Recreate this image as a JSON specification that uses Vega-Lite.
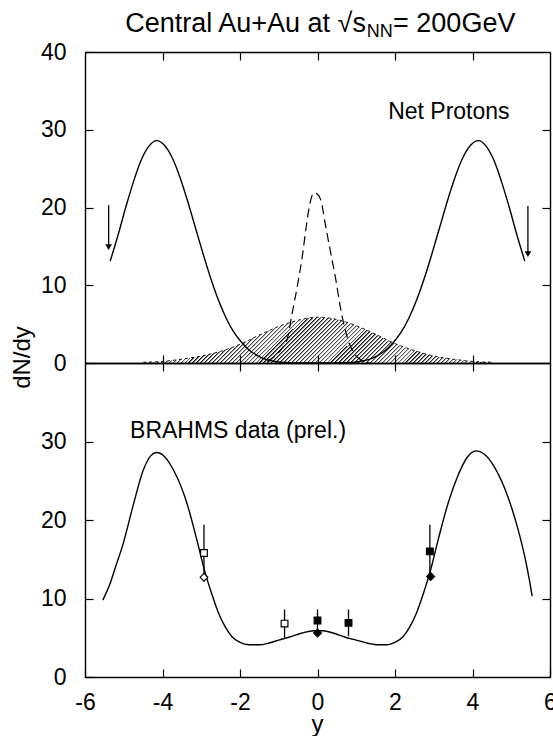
{
"$schema": "https://vega.github.io/schema/vega-lite/v6.json",
"background": "white",
"padding": {"left": 10, "top": 9, "right": 0, "bottom": 0},
"spacing": 0,
"bounds": "flush",
"config": {
  "view": {"stroke": null},
  "font": "Liberation Sans",
  "axis": {"domainColor": "black", "domainWidth": 1.4, "tickColor": "black", "tickWidth": 1.2, "tickSize": -8,
           "labelFont": "Liberation Sans", "labelFontSize": 23, "labelColor": "black", "grid": false,
           "titleFont": "Liberation Sans", "titleFontSize": 24, "titleFontWeight": "normal", "titleColor": "black",
           "labelFlush": false, "labelOverlap": false}
},
"datasets": {
  "hatch": [
    {"x": -4.5, "v": 0.1}, {"x": -4.0, "v": 0.2}, {"x": -3.5, "v": 0.5}, {"x": -3.0, "v": 0.9}, {"x": -2.5, "v": 1.5},
    {"x": -2.0, "v": 2.4}, {"x": -1.5, "v": 3.6}, {"x": -1.0, "v": 4.7}, {"x": -0.5, "v": 5.5}, {"x": 0.0, "v": 5.9},
    {"x": 0.5, "v": 5.6}, {"x": 1.0, "v": 4.8}, {"x": 1.5, "v": 3.7}, {"x": 2.0, "v": 2.5}, {"x": 2.5, "v": 1.6},
    {"x": 3.0, "v": 0.9}, {"x": 3.5, "v": 0.5}, {"x": 4.0, "v": 0.2}, {"x": 4.5, "v": 0.1}
  ],
  "topSolid": [
    {"x": -5.35, "v": 13.1}, {"x": -5.15, "v": 16.4}, {"x": -4.95, "v": 20.0}, {"x": -4.75, "v": 23.3}, {"x": -4.55, "v": 26.1},
    {"x": -4.35, "v": 27.9}, {"x": -4.15, "v": 28.6}, {"x": -3.95, "v": 28.0}, {"x": -3.75, "v": 26.4}, {"x": -3.55, "v": 23.9},
    {"x": -3.35, "v": 20.8}, {"x": -3.15, "v": 17.4}, {"x": -2.95, "v": 14.0}, {"x": -2.75, "v": 10.8}, {"x": -2.55, "v": 8.0},
    {"x": -2.35, "v": 5.7}, {"x": -2.15, "v": 3.9}, {"x": -1.95, "v": 2.6}, {"x": -1.75, "v": 1.6}, {"x": -1.55, "v": 0.95},
    {"x": -1.35, "v": 0.5}, {"x": -1.15, "v": 0.25}, {"x": -0.95, "v": 0.1}, {"x": -0.5, "v": 0}, {"x": 0, "v": 0},
    {"x": 0.5, "v": 0}, {"x": 0.95, "v": 0.1}, {"x": 1.15, "v": 0.25}, {"x": 1.35, "v": 0.5}, {"x": 1.55, "v": 0.95},
    {"x": 1.75, "v": 1.6}, {"x": 1.95, "v": 2.6}, {"x": 2.15, "v": 3.9}, {"x": 2.35, "v": 5.7}, {"x": 2.55, "v": 8.0},
    {"x": 2.75, "v": 10.8}, {"x": 2.95, "v": 14.0}, {"x": 3.15, "v": 17.4}, {"x": 3.35, "v": 20.8}, {"x": 3.55, "v": 23.9},
    {"x": 3.75, "v": 26.4}, {"x": 3.95, "v": 28.0}, {"x": 4.15, "v": 28.6}, {"x": 4.35, "v": 27.9}, {"x": 4.55, "v": 26.1},
    {"x": 4.75, "v": 23.3}, {"x": 4.95, "v": 20.0}, {"x": 5.15, "v": 16.4}, {"x": 5.35, "v": 13.1}
  ],
  "topDashed": [
    {"x": -1.3, "v": 0.2}, {"x": -1.1, "v": 0.9}, {"x": -0.9, "v": 2.0}, {"x": -0.78, "v": 3.1}, {"x": -0.65, "v": 6.5},
    {"x": -0.52, "v": 9.9}, {"x": -0.39, "v": 13.8}, {"x": -0.3, "v": 17.2}, {"x": -0.2, "v": 20.4}, {"x": -0.09, "v": 21.9},
    {"x": 0.0, "v": 21.7}, {"x": 0.09, "v": 20.9}, {"x": 0.21, "v": 17.6}, {"x": 0.34, "v": 14.2}, {"x": 0.47, "v": 10.8},
    {"x": 0.6, "v": 6.9}, {"x": 0.78, "v": 3.1}, {"x": 0.95, "v": 1.2}, {"x": 1.15, "v": 0.3}, {"x": 1.35, "v": 0}
  ],
  "arrows": [
    {"x": -5.39, "from": 20.3, "to": 14.9},
    {"x": 5.43, "from": 20.2, "to": 14.0}
  ],
  "bottomSolid": [
    {"x": -5.54, "v": 9.8}, {"x": -5.36, "v": 11.8}, {"x": -5.2, "v": 14.2}, {"x": -5.02, "v": 16.9}, {"x": -4.76, "v": 21.8},
    {"x": -4.5, "v": 26.3}, {"x": -4.3, "v": 28.2}, {"x": -4.15, "v": 28.6}, {"x": -3.95, "v": 28.1}, {"x": -3.72, "v": 26.4},
    {"x": -3.38, "v": 22.3}, {"x": -3.12, "v": 17.6}, {"x": -2.9, "v": 13.3}, {"x": -2.73, "v": 10.6}, {"x": -2.55, "v": 8.1},
    {"x": -2.37, "v": 6.3}, {"x": -2.2, "v": 5.1}, {"x": -2.0, "v": 4.4}, {"x": -1.77, "v": 4.1}, {"x": -1.5, "v": 4.1},
    {"x": -1.27, "v": 4.3}, {"x": -1.0, "v": 4.7}, {"x": -0.72, "v": 5.1}, {"x": -0.4, "v": 5.6}, {"x": -0.1, "v": 5.9},
    {"x": 0.15, "v": 5.9}, {"x": 0.4, "v": 5.6}, {"x": 0.7, "v": 5.1}, {"x": 1.0, "v": 4.7}, {"x": 1.3, "v": 4.3},
    {"x": 1.55, "v": 4.1}, {"x": 1.8, "v": 4.1}, {"x": 2.0, "v": 4.4}, {"x": 2.2, "v": 5.1}, {"x": 2.37, "v": 6.3},
    {"x": 2.55, "v": 8.1}, {"x": 2.73, "v": 10.6}, {"x": 2.9, "v": 13.3}, {"x": 3.12, "v": 17.6}, {"x": 3.38, "v": 22.3},
    {"x": 3.62, "v": 25.6}, {"x": 3.85, "v": 27.9}, {"x": 4.09, "v": 28.8}, {"x": 4.3, "v": 28.4}, {"x": 4.57, "v": 26.7},
    {"x": 4.91, "v": 23.0}, {"x": 5.17, "v": 18.9}, {"x": 5.35, "v": 15.3}, {"x": 5.47, "v": 12.3}, {"x": 5.54, "v": 10.3}
  ],
  "brahms": [
    {"x": -2.93, "v": 15.8, "lo": 12.2, "hi": 19.4, "sym": "square", "kind": "open"},
    {"x": -0.85, "v": 6.8, "lo": 5.0, "hi": 8.6, "sym": "square", "kind": "open"},
    {"x": 0.0, "v": 7.2, "lo": 5.7, "hi": 8.6, "sym": "square", "kind": "filled"},
    {"x": 0.8, "v": 6.9, "lo": 5.2, "hi": 8.6, "sym": "square", "kind": "filled"},
    {"x": 2.9, "v": 16.0, "lo": 12.6, "hi": 19.4, "sym": "square", "kind": "filled"},
    {"x": -2.93, "v": 12.7, "sym": "diamond", "kind": "open"},
    {"x": 0.0, "v": 5.6, "sym": "diamond", "kind": "filled"},
    {"x": 2.92, "v": 12.8, "sym": "diamond", "kind": "filled"}
  ]
},
"vconcat": [
  {
    "width": 465, "height": 311,
    "layer": [
      {
        "data": {"name": "hatch"},
        "mark": {"type": "area", "interpolate": "monotone", "color": {"gradient": "linear", "x1": 0, "y1": 0, "x2": 1.112, "y2": 0.1464, "stops": [
{"offset":0,"color":"#000"},{"offset":0.006,"color":"rgba(0,0,0,0)"},{"offset":0.01,"color":"rgba(0,0,0,0)"},
{"offset":0.01,"color":"#000"},{"offset":0.016,"color":"rgba(0,0,0,0)"},{"offset":0.02,"color":"rgba(0,0,0,0)"},
{"offset":0.02,"color":"#000"},{"offset":0.026,"color":"rgba(0,0,0,0)"},{"offset":0.03,"color":"rgba(0,0,0,0)"},
{"offset":0.03,"color":"#000"},{"offset":0.036,"color":"rgba(0,0,0,0)"},{"offset":0.04,"color":"rgba(0,0,0,0)"},
{"offset":0.04,"color":"#000"},{"offset":0.046,"color":"rgba(0,0,0,0)"},{"offset":0.05,"color":"rgba(0,0,0,0)"},
{"offset":0.05,"color":"#000"},{"offset":0.056,"color":"rgba(0,0,0,0)"},{"offset":0.06,"color":"rgba(0,0,0,0)"},
{"offset":0.06,"color":"#000"},{"offset":0.066,"color":"rgba(0,0,0,0)"},{"offset":0.07,"color":"rgba(0,0,0,0)"},
{"offset":0.07,"color":"#000"},{"offset":0.076,"color":"rgba(0,0,0,0)"},{"offset":0.08,"color":"rgba(0,0,0,0)"},
{"offset":0.08,"color":"#000"},{"offset":0.086,"color":"rgba(0,0,0,0)"},{"offset":0.09,"color":"rgba(0,0,0,0)"},
{"offset":0.09,"color":"#000"},{"offset":0.096,"color":"rgba(0,0,0,0)"},{"offset":0.1,"color":"rgba(0,0,0,0)"},
{"offset":0.1,"color":"#000"},{"offset":0.106,"color":"rgba(0,0,0,0)"},{"offset":0.11,"color":"rgba(0,0,0,0)"},
{"offset":0.11,"color":"#000"},{"offset":0.116,"color":"rgba(0,0,0,0)"},{"offset":0.12,"color":"rgba(0,0,0,0)"},
{"offset":0.12,"color":"#000"},{"offset":0.126,"color":"rgba(0,0,0,0)"},{"offset":0.13,"color":"rgba(0,0,0,0)"},
{"offset":0.13,"color":"#000"},{"offset":0.136,"color":"rgba(0,0,0,0)"},{"offset":0.14,"color":"rgba(0,0,0,0)"},
{"offset":0.14,"color":"#000"},{"offset":0.146,"color":"rgba(0,0,0,0)"},{"offset":0.15,"color":"rgba(0,0,0,0)"},
{"offset":0.15,"color":"#000"},{"offset":0.156,"color":"rgba(0,0,0,0)"},{"offset":0.16,"color":"rgba(0,0,0,0)"},
{"offset":0.16,"color":"#000"},{"offset":0.166,"color":"rgba(0,0,0,0)"},{"offset":0.17,"color":"rgba(0,0,0,0)"},
{"offset":0.17,"color":"#000"},{"offset":0.176,"color":"rgba(0,0,0,0)"},{"offset":0.18,"color":"rgba(0,0,0,0)"},
{"offset":0.18,"color":"#000"},{"offset":0.186,"color":"rgba(0,0,0,0)"},{"offset":0.19,"color":"rgba(0,0,0,0)"},
{"offset":0.19,"color":"#000"},{"offset":0.196,"color":"rgba(0,0,0,0)"},{"offset":0.2,"color":"rgba(0,0,0,0)"},
{"offset":0.2,"color":"#000"},{"offset":0.206,"color":"rgba(0,0,0,0)"},{"offset":0.21,"color":"rgba(0,0,0,0)"},
{"offset":0.21,"color":"#000"},{"offset":0.216,"color":"rgba(0,0,0,0)"},{"offset":0.22,"color":"rgba(0,0,0,0)"},
{"offset":0.22,"color":"#000"},{"offset":0.226,"color":"rgba(0,0,0,0)"},{"offset":0.23,"color":"rgba(0,0,0,0)"},
{"offset":0.23,"color":"#000"},{"offset":0.236,"color":"rgba(0,0,0,0)"},{"offset":0.24,"color":"rgba(0,0,0,0)"},
{"offset":0.24,"color":"#000"},{"offset":0.246,"color":"rgba(0,0,0,0)"},{"offset":0.25,"color":"rgba(0,0,0,0)"},
{"offset":0.25,"color":"#000"},{"offset":0.256,"color":"rgba(0,0,0,0)"},{"offset":0.26,"color":"rgba(0,0,0,0)"},
{"offset":0.26,"color":"#000"},{"offset":0.266,"color":"rgba(0,0,0,0)"},{"offset":0.27,"color":"rgba(0,0,0,0)"},
{"offset":0.27,"color":"#000"},{"offset":0.276,"color":"rgba(0,0,0,0)"},{"offset":0.28,"color":"rgba(0,0,0,0)"},
{"offset":0.28,"color":"#000"},{"offset":0.286,"color":"rgba(0,0,0,0)"},{"offset":0.29,"color":"rgba(0,0,0,0)"},
{"offset":0.29,"color":"#000"},{"offset":0.296,"color":"rgba(0,0,0,0)"},{"offset":0.3,"color":"rgba(0,0,0,0)"},
{"offset":0.3,"color":"#000"},{"offset":0.306,"color":"rgba(0,0,0,0)"},{"offset":0.31,"color":"rgba(0,0,0,0)"},
{"offset":0.31,"color":"#000"},{"offset":0.316,"color":"rgba(0,0,0,0)"},{"offset":0.32,"color":"rgba(0,0,0,0)"},
{"offset":0.32,"color":"#000"},{"offset":0.326,"color":"rgba(0,0,0,0)"},{"offset":0.33,"color":"rgba(0,0,0,0)"},
{"offset":0.33,"color":"#000"},{"offset":0.336,"color":"rgba(0,0,0,0)"},{"offset":0.34,"color":"rgba(0,0,0,0)"},
{"offset":0.34,"color":"#000"},{"offset":0.346,"color":"rgba(0,0,0,0)"},{"offset":0.35,"color":"rgba(0,0,0,0)"},
{"offset":0.35,"color":"#000"},{"offset":0.356,"color":"rgba(0,0,0,0)"},{"offset":0.36,"color":"rgba(0,0,0,0)"},
{"offset":0.36,"color":"#000"},{"offset":0.366,"color":"rgba(0,0,0,0)"},{"offset":0.37,"color":"rgba(0,0,0,0)"},
{"offset":0.37,"color":"#000"},{"offset":0.376,"color":"rgba(0,0,0,0)"},{"offset":0.38,"color":"rgba(0,0,0,0)"},
{"offset":0.38,"color":"#000"},{"offset":0.386,"color":"rgba(0,0,0,0)"},{"offset":0.39,"color":"rgba(0,0,0,0)"},
{"offset":0.39,"color":"#000"},{"offset":0.396,"color":"rgba(0,0,0,0)"},{"offset":0.4,"color":"rgba(0,0,0,0)"},
{"offset":0.4,"color":"#000"},{"offset":0.406,"color":"rgba(0,0,0,0)"},{"offset":0.41,"color":"rgba(0,0,0,0)"},
{"offset":0.41,"color":"#000"},{"offset":0.416,"color":"rgba(0,0,0,0)"},{"offset":0.42,"color":"rgba(0,0,0,0)"},
{"offset":0.42,"color":"#000"},{"offset":0.426,"color":"rgba(0,0,0,0)"},{"offset":0.43,"color":"rgba(0,0,0,0)"},
{"offset":0.43,"color":"#000"},{"offset":0.436,"color":"rgba(0,0,0,0)"},{"offset":0.44,"color":"rgba(0,0,0,0)"},
{"offset":0.44,"color":"#000"},{"offset":0.446,"color":"rgba(0,0,0,0)"},{"offset":0.45,"color":"rgba(0,0,0,0)"},
{"offset":0.45,"color":"#000"},{"offset":0.456,"color":"rgba(0,0,0,0)"},{"offset":0.46,"color":"rgba(0,0,0,0)"},
{"offset":0.46,"color":"#000"},{"offset":0.466,"color":"rgba(0,0,0,0)"},{"offset":0.47,"color":"rgba(0,0,0,0)"},
{"offset":0.47,"color":"#000"},{"offset":0.476,"color":"rgba(0,0,0,0)"},{"offset":0.48,"color":"rgba(0,0,0,0)"},
{"offset":0.48,"color":"#000"},{"offset":0.486,"color":"rgba(0,0,0,0)"},{"offset":0.49,"color":"rgba(0,0,0,0)"},
{"offset":0.49,"color":"#000"},{"offset":0.496,"color":"rgba(0,0,0,0)"},{"offset":0.5,"color":"rgba(0,0,0,0)"},
{"offset":0.5,"color":"#000"},{"offset":0.506,"color":"rgba(0,0,0,0)"},{"offset":0.51,"color":"rgba(0,0,0,0)"},
{"offset":0.51,"color":"#000"},{"offset":0.516,"color":"rgba(0,0,0,0)"},{"offset":0.52,"color":"rgba(0,0,0,0)"},
{"offset":0.52,"color":"#000"},{"offset":0.526,"color":"rgba(0,0,0,0)"},{"offset":0.53,"color":"rgba(0,0,0,0)"},
{"offset":0.53,"color":"#000"},{"offset":0.536,"color":"rgba(0,0,0,0)"},{"offset":0.54,"color":"rgba(0,0,0,0)"},
{"offset":0.54,"color":"#000"},{"offset":0.546,"color":"rgba(0,0,0,0)"},{"offset":0.55,"color":"rgba(0,0,0,0)"},
{"offset":0.55,"color":"#000"},{"offset":0.556,"color":"rgba(0,0,0,0)"},{"offset":0.56,"color":"rgba(0,0,0,0)"},
{"offset":0.56,"color":"#000"},{"offset":0.566,"color":"rgba(0,0,0,0)"},{"offset":0.57,"color":"rgba(0,0,0,0)"},
{"offset":0.57,"color":"#000"},{"offset":0.576,"color":"rgba(0,0,0,0)"},{"offset":0.58,"color":"rgba(0,0,0,0)"},
{"offset":0.58,"color":"#000"},{"offset":0.586,"color":"rgba(0,0,0,0)"},{"offset":0.59,"color":"rgba(0,0,0,0)"},
{"offset":0.59,"color":"#000"},{"offset":0.596,"color":"rgba(0,0,0,0)"},{"offset":0.6,"color":"rgba(0,0,0,0)"},
{"offset":0.6,"color":"#000"},{"offset":0.606,"color":"rgba(0,0,0,0)"},{"offset":0.61,"color":"rgba(0,0,0,0)"},
{"offset":0.61,"color":"#000"},{"offset":0.616,"color":"rgba(0,0,0,0)"},{"offset":0.62,"color":"rgba(0,0,0,0)"},
{"offset":0.62,"color":"#000"},{"offset":0.626,"color":"rgba(0,0,0,0)"},{"offset":0.63,"color":"rgba(0,0,0,0)"},
{"offset":0.63,"color":"#000"},{"offset":0.636,"color":"rgba(0,0,0,0)"},{"offset":0.64,"color":"rgba(0,0,0,0)"},
{"offset":0.64,"color":"#000"},{"offset":0.646,"color":"rgba(0,0,0,0)"},{"offset":0.65,"color":"rgba(0,0,0,0)"},
{"offset":0.65,"color":"#000"},{"offset":0.656,"color":"rgba(0,0,0,0)"},{"offset":0.66,"color":"rgba(0,0,0,0)"},
{"offset":0.66,"color":"#000"},{"offset":0.666,"color":"rgba(0,0,0,0)"},{"offset":0.67,"color":"rgba(0,0,0,0)"},
{"offset":0.67,"color":"#000"},{"offset":0.676,"color":"rgba(0,0,0,0)"},{"offset":0.68,"color":"rgba(0,0,0,0)"},
{"offset":0.68,"color":"#000"},{"offset":0.686,"color":"rgba(0,0,0,0)"},{"offset":0.69,"color":"rgba(0,0,0,0)"},
{"offset":0.69,"color":"#000"},{"offset":0.696,"color":"rgba(0,0,0,0)"},{"offset":0.7,"color":"rgba(0,0,0,0)"},
{"offset":0.7,"color":"#000"},{"offset":0.706,"color":"rgba(0,0,0,0)"},{"offset":0.71,"color":"rgba(0,0,0,0)"},
{"offset":0.71,"color":"#000"},{"offset":0.716,"color":"rgba(0,0,0,0)"},{"offset":0.72,"color":"rgba(0,0,0,0)"},
{"offset":0.72,"color":"#000"},{"offset":0.726,"color":"rgba(0,0,0,0)"},{"offset":0.73,"color":"rgba(0,0,0,0)"},
{"offset":0.73,"color":"#000"},{"offset":0.736,"color":"rgba(0,0,0,0)"},{"offset":0.74,"color":"rgba(0,0,0,0)"},
{"offset":0.74,"color":"#000"},{"offset":0.746,"color":"rgba(0,0,0,0)"},{"offset":0.75,"color":"rgba(0,0,0,0)"},
{"offset":0.75,"color":"#000"},{"offset":0.756,"color":"rgba(0,0,0,0)"},{"offset":0.76,"color":"rgba(0,0,0,0)"},
{"offset":0.76,"color":"#000"},{"offset":0.766,"color":"rgba(0,0,0,0)"},{"offset":0.77,"color":"rgba(0,0,0,0)"},
{"offset":0.77,"color":"#000"},{"offset":0.776,"color":"rgba(0,0,0,0)"},{"offset":0.78,"color":"rgba(0,0,0,0)"},
{"offset":0.78,"color":"#000"},{"offset":0.786,"color":"rgba(0,0,0,0)"},{"offset":0.79,"color":"rgba(0,0,0,0)"},
{"offset":0.79,"color":"#000"},{"offset":0.796,"color":"rgba(0,0,0,0)"},{"offset":0.8,"color":"rgba(0,0,0,0)"},
{"offset":0.8,"color":"#000"},{"offset":0.806,"color":"rgba(0,0,0,0)"},{"offset":0.81,"color":"rgba(0,0,0,0)"},
{"offset":0.81,"color":"#000"},{"offset":0.816,"color":"rgba(0,0,0,0)"},{"offset":0.82,"color":"rgba(0,0,0,0)"},
{"offset":0.82,"color":"#000"},{"offset":0.826,"color":"rgba(0,0,0,0)"},{"offset":0.83,"color":"rgba(0,0,0,0)"},
{"offset":0.83,"color":"#000"},{"offset":0.836,"color":"rgba(0,0,0,0)"},{"offset":0.84,"color":"rgba(0,0,0,0)"},
{"offset":0.84,"color":"#000"},{"offset":0.846,"color":"rgba(0,0,0,0)"},{"offset":0.85,"color":"rgba(0,0,0,0)"},
{"offset":0.85,"color":"#000"},{"offset":0.856,"color":"rgba(0,0,0,0)"},{"offset":0.86,"color":"rgba(0,0,0,0)"},
{"offset":0.86,"color":"#000"},{"offset":0.866,"color":"rgba(0,0,0,0)"},{"offset":0.87,"color":"rgba(0,0,0,0)"},
{"offset":0.87,"color":"#000"},{"offset":0.876,"color":"rgba(0,0,0,0)"},{"offset":0.88,"color":"rgba(0,0,0,0)"},
{"offset":0.88,"color":"#000"},{"offset":0.886,"color":"rgba(0,0,0,0)"},{"offset":0.89,"color":"rgba(0,0,0,0)"},
{"offset":0.89,"color":"#000"},{"offset":0.896,"color":"rgba(0,0,0,0)"},{"offset":0.9,"color":"rgba(0,0,0,0)"},
{"offset":0.9,"color":"#000"},{"offset":0.906,"color":"rgba(0,0,0,0)"},{"offset":0.91,"color":"rgba(0,0,0,0)"},
{"offset":0.91,"color":"#000"},{"offset":0.916,"color":"rgba(0,0,0,0)"},{"offset":0.92,"color":"rgba(0,0,0,0)"},
{"offset":0.92,"color":"#000"},{"offset":0.926,"color":"rgba(0,0,0,0)"},{"offset":0.93,"color":"rgba(0,0,0,0)"},
{"offset":0.93,"color":"#000"},{"offset":0.936,"color":"rgba(0,0,0,0)"},{"offset":0.94,"color":"rgba(0,0,0,0)"},
{"offset":0.94,"color":"#000"},{"offset":0.946,"color":"rgba(0,0,0,0)"},{"offset":0.95,"color":"rgba(0,0,0,0)"},
{"offset":0.95,"color":"#000"},{"offset":0.956,"color":"rgba(0,0,0,0)"},{"offset":0.96,"color":"rgba(0,0,0,0)"},
{"offset":0.96,"color":"#000"},{"offset":0.966,"color":"rgba(0,0,0,0)"},{"offset":0.97,"color":"rgba(0,0,0,0)"},
{"offset":0.97,"color":"#000"},{"offset":0.976,"color":"rgba(0,0,0,0)"},{"offset":0.98,"color":"rgba(0,0,0,0)"},
{"offset":0.98,"color":"#000"},{"offset":0.986,"color":"rgba(0,0,0,0)"},{"offset":0.99,"color":"rgba(0,0,0,0)"},
{"offset":0.99,"color":"#000"},{"offset":0.996,"color":"rgba(0,0,0,0)"},{"offset":1,"color":"rgba(0,0,0,0)"}
        ]}},
        "encoding": {
          "x": {"field": "x", "type": "quantitative", "scale": {"domain": [-6, 6], "nice": false, "zero": false},
                "axis": {"orient": "bottom", "values": [-4, -2, 0, 2, 4], "labels": false, "title": null}},
          "y": {"field": "v", "type": "quantitative", "scale": {"domain": [0, 40], "nice": false},
                "axis": {"orient": "left", "values": [0, 10, 20, 30, 40], "labelPadding": 27, "title": "dN/dy",
                         "titleAngle": -90, "titleX": -63, "titleY": 305, "titleAlign": "center", "titleBaseline": "middle"}}
        }
      },
      {
        "data": {"name": "hatch"},
        "mark": {"type": "line", "interpolate": "monotone", "color": "black", "strokeWidth": 0.9, "strokeDash": [3, 3]},
        "encoding": {
          "x": {"field": "x", "type": "quantitative", "axis": {"orient": "top", "values": [-4, -2, 0, 2, 4], "labels": false, "title": null}},
          "y": {"field": "v", "type": "quantitative", "axis": {"orient": "right", "values": [10, 20, 30], "labels": false, "title": null}}
        }
      },
      {
        "data": {"name": "topSolid"},
        "mark": {"type": "line", "interpolate": "monotone", "color": "black", "strokeWidth": 1.4},
        "encoding": {
          "x": {"field": "x", "type": "quantitative", "axis": null},
          "y": {"field": "v", "type": "quantitative", "axis": null}
        }
      },
      {
        "data": {"name": "topDashed"},
        "mark": {"type": "line", "interpolate": "monotone", "color": "black", "strokeWidth": 1.2, "strokeDash": [9, 5]},
        "encoding": {
          "x": {"field": "x", "type": "quantitative", "axis": null},
          "y": {"field": "v", "type": "quantitative", "axis": null}
        }
      },
      {
        "data": {"name": "arrows"},
        "mark": {"type": "rule", "color": "black", "strokeWidth": 1.3},
        "encoding": {
          "x": {"field": "x", "type": "quantitative", "axis": null},
          "y": {"field": "from", "type": "quantitative", "axis": null},
          "y2": {"field": "to"}
        }
      },
      {
        "data": {"name": "arrows"},
        "mark": {"type": "point", "shape": "triangle-down", "filled": true, "color": "black", "size": 45, "opacity": 1},
        "encoding": {
          "x": {"field": "x", "type": "quantitative", "axis": null},
          "y": {"field": "to", "type": "quantitative", "axis": null}
        }
      },
      {
        "data": {"values": [{"x": 3.39, "v": 32.3, "t": "Net Protons"}]},
        "mark": {"type": "text", "fontSize": 23, "font": "Liberation Sans", "align": "center", "baseline": "middle", "color": "black"},
        "encoding": {
          "x": {"field": "x", "type": "quantitative", "axis": null},
          "y": {"field": "v", "type": "quantitative", "axis": null},
          "text": {"field": "t"}
        }
      },
      {
        "data": {"values": [{"x": 1.25, "v": 42.6, "t": "Central Au+Au at √s"}]},
        "mark": {"type": "text", "fontSize": 27, "font": "Liberation Sans", "align": "right", "baseline": "alphabetic", "color": "black"},
        "encoding": {
          "x": {"field": "x", "type": "quantitative", "axis": null},
          "y": {"field": "v", "type": "quantitative", "axis": null},
          "text": {"field": "t"}
        }
      },
      {
        "data": {"values": [{"x": 1.27, "v": 41.9, "t": "NN"}]},
        "mark": {"type": "text", "fontSize": 18, "font": "Liberation Sans", "align": "left", "baseline": "alphabetic", "color": "black"},
        "encoding": {
          "x": {"field": "x", "type": "quantitative", "axis": null},
          "y": {"field": "v", "type": "quantitative", "axis": null},
          "text": {"field": "t"}
        }
      },
      {
        "data": {"values": [{"x": 1.95, "v": 42.6, "t": "= 200GeV"}]},
        "mark": {"type": "text", "fontSize": 27, "font": "Liberation Sans", "align": "left", "baseline": "alphabetic", "color": "black"},
        "encoding": {
          "x": {"field": "x", "type": "quantitative", "axis": null},
          "y": {"field": "v", "type": "quantitative", "axis": null},
          "text": {"field": "t"}
        }
      }
    ],
    "resolve": {"axis": {"x": "independent", "y": "independent"}}
  },
  {
    "width": 465, "height": 314,
    "layer": [
      {
        "data": {"name": "bottomSolid"},
        "mark": {"type": "line", "interpolate": "monotone", "color": "black", "strokeWidth": 1.4},
        "encoding": {
          "x": {"field": "x", "type": "quantitative", "scale": {"domain": [-6, 6], "nice": false, "zero": false},
                "axis": {"orient": "bottom", "values": [-6, -4, -2, 0, 2, 4, 6], "labelExpr": "'' + datum.value", "labelPadding": 22,
                         "title": "y", "titleX": 232, "titleY": 54, "titleBaseline": "alphabetic", "titleAlign": "center"}},
          "y": {"field": "v", "type": "quantitative", "scale": {"domain": [0, 40], "nice": false},
                "axis": {"orient": "left", "values": [0, 10, 20, 30], "labelPadding": 27, "title": null}}
        }
      },
      {
        "data": {"name": "brahms"},
        "mark": {"type": "rule", "color": "black", "strokeWidth": 1.3},
        "encoding": {
          "x": {"field": "x", "type": "quantitative", "axis": {"orient": "top", "values": [-4, -2, 0, 2, 4], "labels": false, "title": null}},
          "y": {"field": "lo", "type": "quantitative", "axis": {"orient": "right", "values": [10, 20, 30], "labels": false, "title": null}},
          "y2": {"field": "hi"}
        }
      },
      {
        "data": {"name": "brahms"},
        "mark": {"type": "point", "stroke": "black", "strokeWidth": 1.2, "opacity": 1},
        "encoding": {
          "x": {"field": "x", "type": "quantitative", "axis": null},
          "y": {"field": "v", "type": "quantitative", "axis": null},
          "shape": {"field": "sym", "type": "nominal", "scale": {"domain": ["square", "diamond"], "range": ["square", "diamond"]}, "legend": null},
          "fill": {"field": "kind", "type": "nominal", "scale": {"domain": ["filled", "open"], "range": ["black", "white"]}, "legend": null},
          "size": {"field": "sym", "type": "nominal", "scale": {"domain": ["square", "diamond"], "range": [45, 60]}, "legend": null}
        }
      },
      {
        "data": {"values": [{"x": -2.05, "v": 31.3, "t": "BRAHMS data (prel.)"}]},
        "mark": {"type": "text", "fontSize": 23, "font": "Liberation Sans", "align": "center", "baseline": "middle", "color": "black"},
        "encoding": {
          "x": {"field": "x", "type": "quantitative", "axis": null},
          "y": {"field": "v", "type": "quantitative", "axis": null},
          "text": {"field": "t"}
        }
      }
    ],
    "resolve": {"axis": {"x": "independent", "y": "independent"}}
  }
]
}
